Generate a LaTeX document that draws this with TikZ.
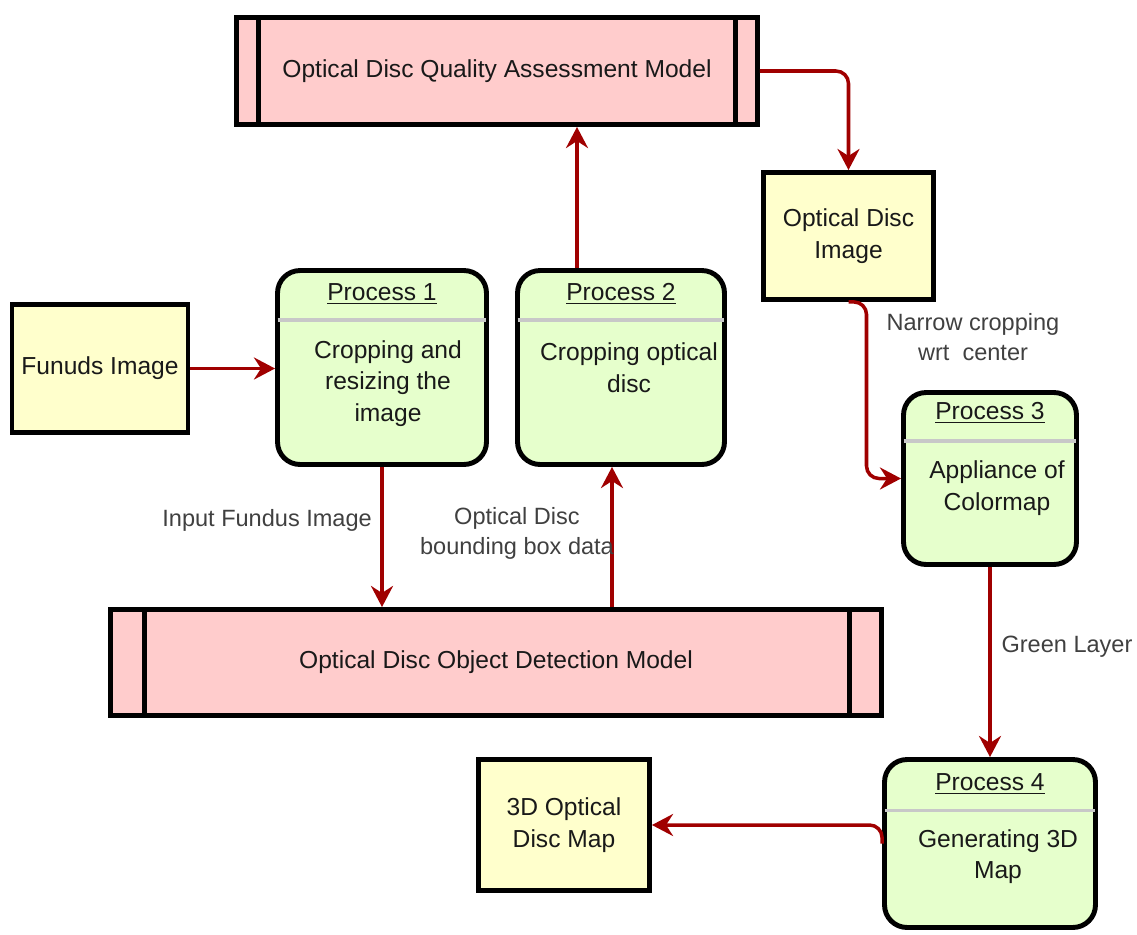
\documentclass[tikz,border=0pt]{standalone}
\usepackage{fontspec}
\setmainfont{Liberation Sans}
\usetikzlibrary{arrows.meta,calc}
\definecolor{modelpink}{HTML}{FFCCCC}
\definecolor{datayellow}{HTML}{FFFFCC}
\definecolor{procgreen}{HTML}{E6FFCC}
\definecolor{flowred}{HTML}{A00000}
\definecolor{sepgray}{HTML}{C8C8C8}
\definecolor{lblgray}{HTML}{404040}

\begin{document}
\begin{tikzpicture}[x=0.02cm, y=-0.02cm,
	font=\fontsize{14}{17.9}\selectfont,
	datastore/.style={draw, line width=2.8pt, fill=datayellow, text=black!90, align=center, inner sep=0pt},
	model/.style={draw, line width=2.8pt, fill=modelpink, text=black!90, inner sep=0pt},
	process/.style={draw, line width=2.8pt, fill=procgreen, rounded corners=0.45cm, inner sep=0pt},
	ptitle/.style={text=black!90},
	ptext/.style={text=black!90, align=center},
	sepline/.style={sepgray, line width=1.8pt, shorten <=1.4pt, shorten >=1.4pt},
	modelbar/.style={line width=2.8pt},
	flow/.style={flowred, line width=2pt, rounded corners=0.25cm, -{Stealth[length=12pt,width=12.5pt,inset=4pt]}},
	lbl/.style={text=lblgray, font=\fontsize{13.4}{17}\selectfont, align=center}]
	\useasboundingbox (0,0) rectangle (1137,934);

	% Stores and models:
	\node[model, minimum width=10.42cm, minimum height=2.14cm] (qam) at (497,71) {Optical Disc Quality Assessment Model};
	\draw[modelbar] ($(qam.north west)+(24,0)$) -- ($(qam.south west)+(24,0)$);
	\draw[modelbar] ($(qam.north east)+(-24,0)$) -- ($(qam.south east)+(-24,0)$);
	\node[model, minimum width=15.42cm, minimum height=2.12cm] (odm) at (496,662.5) {Optical Disc Object Detection Model};
	\draw[modelbar] ($(odm.north west)+(36,0)$) -- ($(odm.south west)+(36,0)$);
	\draw[modelbar] ($(odm.north east)+(-34,0)$) -- ($(odm.south east)+(-34,0)$);
	\node[datastore, minimum width=3.52cm, minimum height=2.56cm] (fimg) at (100,368.5) {Funuds Image};
	\node[datastore, minimum width=3.40cm, minimum height=2.54cm] (odimg) at (848.5,236) {Optical Disc\\Image};
	\node[datastore, minimum width=3.42cm, minimum height=2.62cm] (map3d) at (564,825) {3D Optical\\Disc Map};

	% Processes:
	\node[process, minimum width=4.18cm, minimum height=3.88cm] (p1) at (382,367.5) {};
	\draw[sepline] ($(p1.north west)+(0,52)$) -- ($(p1.north east)+(0,52)$);
	\node[ptitle] (p1t) at ($(p1.north)+(0,26)$) {\underline{Process 1}};
	\node[ptext] (p1b) at ($(p1.north)+(6,115.5)$) {Cropping and\\resizing the\\image};

	\node[process, minimum width=4.14cm, minimum height=3.88cm] (p2) at (621,367.5) {};
	\draw[sepline] ($(p2.north west)+(0,52)$) -- ($(p2.north east)+(0,52)$);
	\node[ptitle] (p2t) at ($(p2.north)+(0,26)$) {\underline{Process 2}};
	\node[ptext] (p2b) at ($(p2.north)+(8,99.5)$) {Cropping optical\\disc};

	\node[process, minimum width=3.46cm, minimum height=3.44cm] (p3) at (990,478.5) {};
	\draw[sepline] ($(p3.north west)+(0,51)$) -- ($(p3.north east)+(0,51)$);
	\node[ptitle] (p3t) at ($(p3.north)+(0,23)$) {\underline{Process 3}};
	\node[ptext] (p3b) at ($(p3.north)+(7,98)$) {Appliance of\\Colormap};

	\node[process, minimum width=4.22cm, minimum height=3.36cm] (p4) at (990,843.5) {};
	\draw[sepline] ($(p4.north west)+(0,53.5)$) -- ($(p4.north east)+(0,53.5)$);
	\node[ptitle] (p4t) at ($(p4.north)+(0,26.5)$) {\underline{Process 4}};
	\node[ptext] (p4b) at ($(p4.north)+(8,99.5)$) {Generating 3D\\Map};

	% Flows:
	\coordinate (bb) at ($(p2.south)+(-9,0)$);
	\coordinate (qa) at ($(p2.north)+(-44,0)$);
	\coordinate (nc) at ($(odimg.south)+(18,0)$);
	\draw[flow] (fimg.east) -- (fimg.east -| p1.west);
	\draw[flow] (p1.south) -- (p1.south |- odm.north);
	\draw[flow] (bb |- odm.north) -- (bb);
	\draw[flow] (qa) -- (qa |- qam.south);
	\draw[flow] (qam.east) -| (odimg.north);
	\draw[flow] (odimg.south) -- (nc) -- (nc |- p3.west) -- (p3.west);
	\draw[flow] (p3.south) -- (p4.north);
	\draw[flow] (p4.west) |- (map3d.east);

	% Flow labels:
	\node[lbl, anchor=east] (lfund) at ($(p1.south)+(-4,53)$) {Input Fundus Image};
	\node[lbl] (lbbox) at (517,533) {Optical Disc\\bounding box data};
	\node[lbl] (lnarrow) at (973,337) {Narrow cropping\\wrt\ \ center};
	\node[lbl] (lgreen) at (1067,647) {Green Layer};
\end{tikzpicture}
\end{document}
